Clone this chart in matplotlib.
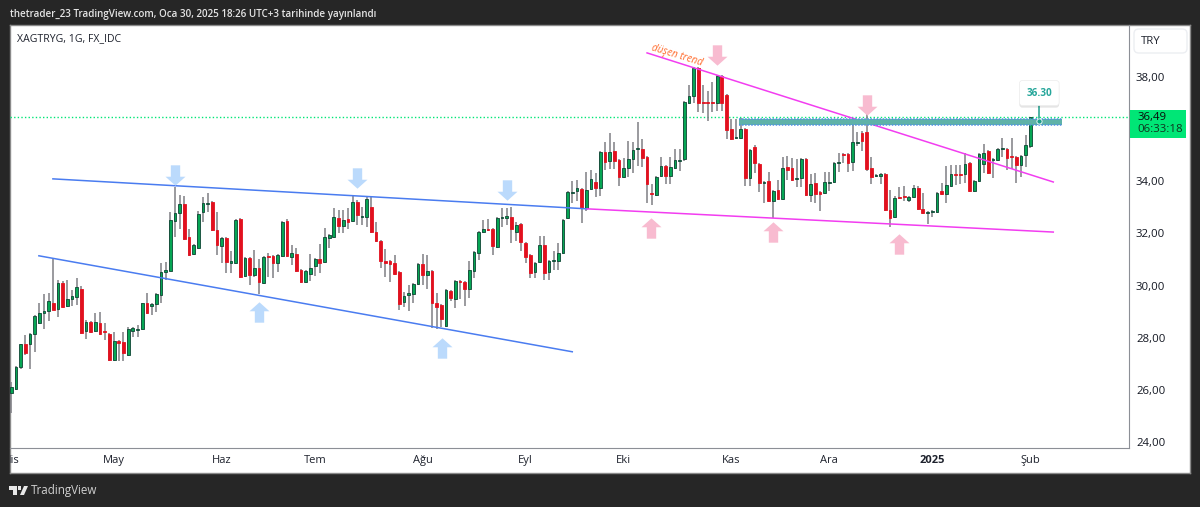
import matplotlib
matplotlib.use('Agg')
import matplotlib.pyplot as plt
import matplotlib.patheffects as pe
from matplotlib.patches import Polygon, Rectangle, FancyBboxPatch
from matplotlib.path import Path

W, H = 1200, 507

# daily OHLC
opens = [
    25.88, 26.04, 26.88, 27.76, 27.76, 28.15, 28.57, 28.95, 29.03, 29.33,
    29.10, 30.10, 29.22, 29.49, 29.56, 29.87, 28.26, 28.61, 28.26, 28.57,
    28.26, 28.15, 27.15, 27.88, 27.84, 27.34, 28.26, 28.30, 28.34, 29.33,
    29.22, 29.30, 29.64, 30.52, 30.56, 32.48, 32.78, 33.13, 31.86, 31.21,
    31.44, 32.82, 33.13, 33.21, 32.13, 31.52, 31.83, 30.87, 30.87, 32.55,
    30.37, 31.06, 30.41, 30.68, 30.10, 31.14, 31.14, 30.87, 31.14, 32.48,
    31.10, 31.21, 30.60, 30.14, 30.44, 30.75, 31.02, 30.91, 31.83, 31.86,
    32.59, 32.29, 32.55, 32.48, 33.21, 32.63, 32.63, 33.01, 32.06, 31.71,
    30.94, 30.94, 30.87, 30.52, 29.37, 29.64, 29.68, 30.06, 30.83, 30.41,
    30.56, 29.33, 29.26, 28.45, 29.79, 29.49, 30.18, 30.14, 29.87, 30.56,
    31.25, 32.06, 32.17, 32.17, 31.48, 32.59, 32.59, 32.63, 32.06, 32.36,
    31.63, 31.17, 30.52, 30.91, 31.56, 30.52, 30.94, 30.94, 31.25, 32.59,
    33.55, 33.63, 33.70, 32.98, 33.70, 33.97, 33.74, 35.12, 34.78, 35.16,
    34.82, 34.16, 34.51, 34.85, 35.24, 35.24, 34.93, 33.55, 33.47, 34.20,
    34.59, 34.20, 34.51, 34.78, 34.85, 37.00, 37.27, 38.34, 37.04, 37.04,
    37.04, 37.00, 38.04, 37.31, 36.00, 35.66, 35.66, 36.00, 34.13, 35.31,
    34.66, 33.93, 34.01, 33.24, 33.67, 33.32, 34.55, 34.51, 34.09, 34.13,
    34.85, 33.47, 33.93, 33.59, 33.55, 33.93, 33.97, 34.70, 35.05, 35.05,
    34.74, 35.47, 35.85, 35.89, 34.51, 34.20, 34.20, 34.28, 32.90, 32.63,
    33.40, 33.44, 33.28, 33.40, 33.74, 32.94, 32.78, 32.82, 32.82, 33.63,
    33.51, 33.82, 34.28, 34.28, 34.28, 34.70, 33.63, 34.01, 34.66, 35.16,
    34.82, 34.82, 35.24, 35.24, 34.97, 34.93, 34.62, 35.01, 35.35,
]
highs = [
    26.31, 26.92, 27.76, 28.11, 28.18, 28.87, 29.33, 29.68, 29.72, 31.02,
    30.22, 30.18, 30.22, 29.83, 30.29, 29.99, 28.68, 28.64, 28.95, 28.99,
    28.57, 28.18, 28.22, 27.92, 28.22, 28.41, 28.41, 28.49, 29.33, 29.72,
    29.33, 29.72, 30.87, 30.91, 32.82, 33.78, 33.47, 33.44, 32.17, 31.60,
    32.86, 33.40, 33.55, 33.24, 32.82, 31.86, 31.86, 31.33, 32.55, 32.59,
    31.10, 31.10, 31.37, 31.02, 31.14, 31.25, 31.17, 31.21, 32.48, 32.55,
    31.56, 31.44, 30.64, 30.60, 31.21, 31.06, 31.60, 32.21, 31.98, 32.98,
    32.90, 32.90, 32.98, 33.47, 33.28, 33.01, 33.40, 33.40, 32.44, 31.75,
    31.40, 30.98, 31.17, 30.56, 29.75, 30.02, 30.10, 30.87, 31.21, 31.17,
    30.60, 29.72, 29.30, 29.87, 29.83, 30.22, 30.22, 30.18, 30.94, 31.33,
    32.09, 32.52, 32.55, 32.21, 32.63, 32.98, 32.98, 33.01, 32.44, 32.40,
    31.67, 31.21, 30.91, 31.90, 31.90, 30.98, 31.33, 31.63, 32.55, 33.63,
    34.01, 34.05, 33.74, 34.36, 34.43, 34.32, 35.16, 35.51, 35.85, 35.51,
    34.85, 34.89, 35.54, 35.51, 36.27, 35.62, 34.97, 33.90, 34.20, 34.93,
    34.62, 34.93, 35.24, 35.24, 37.08, 37.69, 38.38, 38.38, 37.69, 37.46,
    37.81, 38.08, 38.08, 37.35, 36.39, 36.39, 36.43, 36.04, 35.24, 35.39,
    34.70, 34.01, 34.36, 33.67, 34.05, 34.93, 34.97, 34.89, 34.85, 34.89,
    34.89, 34.28, 34.32, 33.63, 34.36, 34.36, 34.74, 35.08, 35.08, 35.08,
    36.27, 35.89, 35.93, 36.62, 34.93, 34.28, 34.32, 34.32, 33.67, 33.44,
    33.78, 33.82, 33.44, 33.86, 33.82, 33.55, 32.86, 32.90, 33.59, 33.93,
    34.59, 34.62, 34.62, 34.62, 35.08, 34.74, 34.05, 35.08, 35.43, 35.20,
    34.89, 35.28, 35.66, 35.28, 35.66, 34.97, 35.01, 35.77, 36.47,
]
lows = [
    25.12, 26.00, 26.80, 27.34, 26.80, 27.45, 28.53, 28.34, 28.64, 29.07,
    28.80, 29.14, 29.18, 29.22, 29.26, 28.15, 27.95, 28.18, 28.22, 28.11,
    27.92, 27.11, 27.11, 27.11, 27.11, 27.30, 28.03, 28.03, 28.30, 28.91,
    28.87, 28.99, 29.33, 30.22, 30.56, 31.86, 32.17, 31.75, 31.13, 31.17,
    31.40, 32.44, 32.82, 32.09, 31.17, 30.87, 30.48, 30.48, 30.83, 30.29,
    30.33, 30.02, 30.33, 29.68, 30.06, 30.33, 30.29, 30.52, 31.10, 31.10,
    30.79, 30.52, 30.10, 30.10, 30.18, 30.37, 30.48, 30.87, 31.44, 31.83,
    32.02, 32.02, 32.17, 32.44, 32.32, 32.32, 32.25, 32.02, 31.67, 30.68,
    30.33, 30.14, 30.41, 29.07, 29.18, 29.03, 29.33, 30.02, 30.02, 29.87,
    28.37, 28.34, 28.41, 28.41, 29.41, 29.14, 29.49, 29.22, 29.52, 30.29,
    30.98, 32.02, 32.09, 31.17, 31.44, 32.25, 32.32, 31.63, 31.71, 31.33,
    30.87, 30.29, 30.29, 30.87, 30.22, 30.22, 30.60, 30.60, 31.21, 32.55,
    33.17, 33.24, 32.40, 32.86, 33.67, 33.40, 33.44, 34.43, 34.47, 34.47,
    33.82, 34.12, 34.16, 34.32, 34.59, 34.55, 33.17, 33.09, 33.44, 34.16,
    33.90, 33.90, 34.47, 34.39, 34.78, 36.96, 37.00, 36.66, 36.62, 36.31,
    36.66, 36.69, 36.69, 35.62, 35.58, 35.62, 35.62, 33.82, 33.82, 34.32,
    33.59, 33.17, 33.21, 32.59, 33.28, 33.28, 34.05, 34.01, 33.78, 33.78,
    33.44, 33.21, 33.17, 32.86, 33.51, 33.63, 33.93, 34.36, 34.70, 34.36,
    34.39, 35.35, 35.16, 34.39, 33.90, 34.16, 33.90, 32.86, 32.25, 32.59,
    33.32, 33.24, 33.21, 33.36, 32.90, 32.75, 32.36, 32.63, 32.78, 33.47,
    33.17, 33.78, 33.86, 33.90, 33.93, 33.59, 33.59, 33.97, 34.32, 34.28,
    34.13, 34.78, 34.93, 34.43, 34.47, 33.93, 34.16, 34.55, 35.28,
]
closes = [
    26.11, 26.88, 27.76, 27.42, 28.15, 28.83, 28.95, 29.03, 29.41, 29.07,
    30.10, 29.18, 29.49, 29.60, 29.95, 28.18, 28.61, 28.22, 28.61, 28.15,
    28.22, 27.15, 27.88, 27.80, 27.42, 28.34, 28.38, 28.34, 29.33, 28.95,
    29.30, 29.68, 30.52, 30.60, 32.52, 32.78, 33.13, 31.79, 31.17, 31.56,
    32.75, 33.17, 33.17, 32.13, 31.56, 31.83, 30.91, 30.94, 32.52, 30.33,
    31.06, 30.41, 30.68, 30.14, 31.10, 31.10, 30.87, 31.17, 32.44, 31.14,
    31.25, 30.56, 30.14, 30.56, 30.68, 31.02, 30.87, 31.86, 31.94, 32.63,
    32.29, 32.52, 32.44, 33.21, 32.71, 32.67, 33.32, 32.06, 31.71, 30.94,
    30.87, 30.83, 30.44, 29.30, 29.60, 29.72, 30.06, 30.83, 30.41, 30.56,
    29.33, 29.18, 28.72, 29.83, 29.52, 30.18, 30.14, 29.87, 30.60, 31.29,
    32.06, 32.17, 32.13, 31.52, 32.59, 32.63, 32.67, 32.17, 32.32, 31.67,
    31.10, 30.48, 30.87, 31.56, 30.48, 30.94, 30.98, 31.25, 32.52, 33.59,
    33.59, 33.74, 32.98, 33.67, 34.09, 33.74, 35.12, 34.74, 35.12, 34.78,
    34.16, 34.51, 34.85, 35.20, 35.28, 34.89, 33.90, 33.51, 34.16, 34.59,
    34.20, 34.55, 34.82, 34.82, 37.04, 37.27, 38.34, 37.00, 37.00, 37.00,
    37.00, 38.04, 37.00, 35.97, 35.62, 35.70, 36.00, 34.13, 35.20, 34.70,
    33.93, 33.97, 33.24, 33.63, 33.32, 34.51, 34.43, 34.05, 34.13, 34.85,
    33.47, 33.90, 33.51, 33.51, 33.97, 33.97, 34.70, 34.74, 35.01, 34.70,
    35.51, 35.51, 35.54, 34.47, 34.16, 34.24, 34.28, 32.90, 32.59, 33.36,
    33.36, 33.40, 33.40, 33.74, 32.94, 32.78, 32.82, 32.86, 33.55, 33.51,
    33.86, 34.28, 34.24, 34.24, 34.66, 33.63, 34.01, 35.05, 35.08, 34.32,
    34.85, 35.24, 35.28, 34.89, 34.93, 34.62, 34.97, 35.39, 36.47,
]

price_ticks = [24, 26, 28, 30, 32, 34, 38]
month_pos = [22, 45, 65, 88, 110, 131, 154, 175, 197, 218]
month_labels = ['May', 'Haz', 'Tem', 'Ağu', 'Eyl', 'Eki', 'Kas', 'Ara', '2025', 'Şub']

# drawn trend lines: (bar index, price)
blue_upper = ([8.9, 123.2], [34.09, 32.94])
blue_lower = ([5.9, 120.0], [31.14, 27.46])
pink_lower = ([123.2, 222.9], [32.94, 32.05])
pink_falling = ([136.0, 222.9], [38.92, 33.97])

# resistance band and its callout
band_x = [155.7, 224.8]
band_top, band_bottom = 36.39, 36.16
note_x, note_price = 219.9, 36.30

# arrow markers, centres as (bar index, price)
blue_down = ([35.0, 74.0, 106.1], [34.24, 34.13, 33.65])
blue_up = ([53.0, 92.1], [29.0, 27.6])
pink_down = ([151.0, 183.1], [38.84, 36.91])
pink_up = ([136.9, 163.0, 190.0], [32.19, 32.06, 31.58])

DARK = '#262626'
GREEN = '#06a654'
GREEN_EDGE = '#0e4433'
RED = '#e2101e'
WICK = '#7e7e84'
BLUE_LINE = '#4a7cf0'
PINK_LINE = '#f23df0'
BLUE_ARROW = '#bbdafc'
PINK_ARROW = '#f8bbd0'
plt.rcParams['font.family'] = ['Open Sans', 'DejaVu Sans']


def fx(x):
    return x / W


def fy(y):
    return 1 - y / H


def box(left, top, right, bottom):
    return [fx(left), fy(bottom), fx(right) - fx(left), fy(top) - fy(bottom)]


def arrow_path(up):
    s = -1 if up else 1
    verts = [(0, -s), (0.98, -0.12 * s), (0.46, -0.12 * s), (0.46, s),
             (-0.46, s), (-0.46, -0.12 * s), (-0.98, -0.12 * s), (0, -s)]
    return Path(verts, closed=True)


fig = plt.figure(figsize=(W / 100, H / 100), dpi=100, facecolor=DARK)

# white panel behind chart, price and time scales
panel = fig.add_axes(box(10, 25, 1190, 473), zorder=-1)
panel.set_xticks([])
panel.set_yticks([])
panel.set_facecolor('white')
for s in panel.spines.values():
    s.set_color('#8a8a8a')
    s.set_linewidth(1)

ax = fig.add_axes(box(10, 25, 1129, 448))
ax.patch.set_alpha(0)
ax.set_xlim(-0.28, 239.1)
ax.set_ylim(23.77, 39.99)
for name in ['top', 'left']:
    ax.spines[name].set_visible(False)
ax.spines['right'].set_color('#8c8f96')
ax.spines['bottom'].set_color('#8c8f96')

idx = list(range(len(opens)))
ax.vlines(idx, lows, highs, color=WICK, linewidth=1.1, zorder=2)
for i in idx:
    up = closes[i] >= opens[i]
    ax.bar(i, abs(closes[i] - opens[i]), bottom=min(opens[i], closes[i]), width=0.58,
           color=GREEN if up else RED, edgecolor=GREEN_EDGE if up else RED,
           linewidth=0.6, zorder=3)

ax.axhline(closes[-1], color='#00e676', linestyle=(0, (1, 1.6)), linewidth=1, zorder=1)

for line, col in [(blue_upper, BLUE_LINE), (blue_lower, BLUE_LINE),
                  (pink_lower, PINK_LINE), (pink_falling, PINK_LINE)]:
    ax.plot(line[0], line[1], color=col, linewidth=1.1, zorder=4)

ax.fill_between(band_x, band_bottom, band_top, color='#5fb2a8', linewidth=0, zorder=4)
for p in [band_top, band_bottom]:
    ax.plot(band_x, [p, p], color='#4f8fe8', linestyle=(0, (1, 1)), linewidth=1.1, zorder=4)

for pts, col, up in [(blue_down, BLUE_ARROW, False), (blue_up, BLUE_ARROW, True),
                     (pink_down, PINK_ARROW, False), (pink_up, PINK_ARROW, True)]:
    ax.scatter(pts[0], pts[1], marker=arrow_path(up), s=215, color=col, linewidths=0, zorder=5)

ax.text(142.4, 38.84, 'düşen trend', color='#ff6a2b', fontsize=7.2, style='italic',
        rotation=-17, ha='center', va='center', zorder=6)

# 36.30 callout
ax.plot([note_x, note_x], [note_price, 36.9], color='#1c9e8c', linewidth=1.1, zorder=6)
ax.scatter([note_x], [note_price], s=14, color='#1c9e8c', edgecolors='white', linewidths=0.6, zorder=7)
note = ax.text(note_x, 37.38, '36.30', color='#26a69a', fontsize=7.2, fontweight='bold',
               ha='center', va='center', zorder=8,
               bbox=dict(boxstyle='round,pad=0.7,rounding_size=0.3', fc='white', ec='#ececec', lw=0.5))
note.get_bbox_patch().set_path_effects([
    pe.SimplePatchShadow(offset=(0, -1.5), shadow_rgbFace='#000000', alpha=0.10), pe.Normal()])

# price scale
ax.yaxis.tick_right()
ax.set_yticks(price_ticks)
ax.set_yticklabels([f'{p:.2f}'.replace('.', ',') for p in price_ticks])
ax.tick_params(axis='y', length=0, pad=5, labelsize=8.2, labelcolor='#131722')
ax.tick_params(axis='x', bottom=False, labelbottom=False)

# time scale, the first label is cut by the panel edge
tax = fig.add_axes(box(10, 448, 1129, 473), sharex=ax)
tax.patch.set_alpha(0)
tax.set_ylim(0, 1)
tax.axis('off')
tax.text(-0.1, 0.5, 'Nis', ha='center', va='center', fontsize=8, color='#1e222d', clip_on=True)
for pos, lab in zip(month_pos, month_labels):
    tax.text(pos, 0.5, lab, ha='center', va='center', fontsize=8, color='#1e222d',
             fontweight='bold' if lab == '2025' else 'normal')

# chrome texts
fig.text(fx(10), fy(14), 'thetrader_23 TradingView.com, Oca 30, 2025 18:26 UTC+3 tarihinde yayınlandı',
         color='#e4e4e4', fontsize=7.15, va='center', fontweight='semibold')
fig.text(fx(17), fy(39), 'XAGTRYG, 1G, FX_IDC', color='#1e222d', fontsize=7.6, va='center')

fig.add_artist(FancyBboxPatch((fx(1134), fy(53)), fx(53), fy(29) - fy(53),
                              boxstyle='round,pad=0,rounding_size=0.004', transform=fig.transFigure,
                              fc='white', ec='#eceef2', lw=1, mutation_aspect=2.3))
fig.text(fx(1141), fy(42), 'TRY', color='#1e222d', fontsize=8.2, va='center')

fig.add_artist(Rectangle((fx(1129.5), fy(138)), fx(56.5), fy(110) - fy(138), transform=fig.transFigure,
                         fc='#00e676', ec='none'))
fig.text(fx(1137), fy(117), '36,49', color='#0a0a0a', fontsize=8.2, va='center')
fig.text(fx(1137), fy(130), '06:33:18', color='#10331f', fontsize=8.2, va='center')

# TradingView logo and name in the footer
fig.add_artist(Polygon([(fx(9), fy(486)), (fx(17), fy(486)), (fx(17), fy(495)), (fx(13), fy(495)),
                        (fx(13), fy(490)), (fx(9), fy(490))], transform=fig.transFigure, fc='#e8e8e8', ec='none'))
fig.add_artist(Polygon([(fx(24), fy(486)), (fx(28), fy(486)), (fx(24), fy(495)), (fx(20), fy(495))],
                       transform=fig.transFigure, fc='#e8e8e8', ec='none'))
fig.add_artist(Rectangle((fx(18), fy(490)), fx(3.4), fy(486) - fy(490), transform=fig.transFigure,
                         fc='#e8e8e8', ec='none'))
fig.text(fx(31), fy(490.5), 'TradingView', color='#d0d0d0', fontsize=8.4, va='center')

fig.savefig('out.png', dpi=100, facecolor=DARK)
